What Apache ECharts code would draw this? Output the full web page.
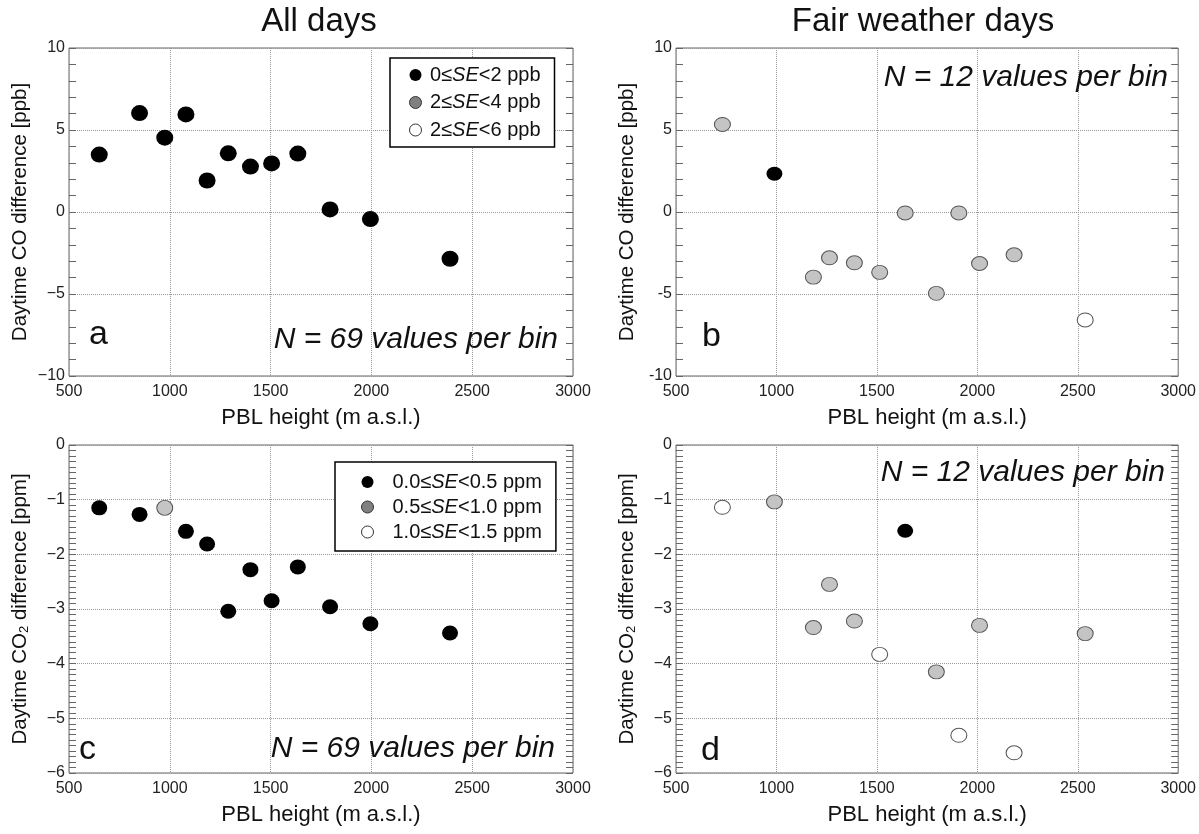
<!DOCTYPE html>
<html><head><meta charset="utf-8">
<script src="https://cdn.jsdelivr.net/npm/echarts@6/dist/echarts.min.js"></script>
<style>html,body{margin:0;padding:0;background:#fff}#c{width:1199px;height:834px}</style>
</head><body><div id="c"></div>
<script>
const panelTitles = ['All days', 'Fair weather days'];
const panelLetters = ['a', 'b', 'c', 'd'];
const nTexts = ['N = 69 values per bin', 'N = 12 values per bin', 'N = 69 values per bin', 'N = 12 values per bin'];
const xName = 'PBL height (m a.s.l.)';
const coName = 'Daytime CO difference [ppb]';
const co2Name = 'Daytime CO{sub|2} difference [ppm]';
const coClasses = ['0≤SE<2 ppb', '2≤SE<4 ppb', '2≤SE<6 ppb'];
const co2Classes = ['0.0≤SE<0.5 ppm', '0.5≤SE<1.0 ppm', '1.0≤SE<1.5 ppm'];

// All days (bins of 69 values)
const pblAll   = [650, 850, 975, 1080, 1185, 1290, 1400, 1505, 1635, 1795, 1995, 2390];
const coAll    = [3.50, 6.03, 4.53, 5.95, 1.92, 3.58, 2.77, 2.96, 3.56, 0.16, -0.43, -2.85];
const coAllSE  = [0, 0, 0, 0, 0, 0, 0, 0, 0, 0, 0, 0];
const co2All   = [-1.15, -1.27, -1.15, -1.58, -1.81, -3.04, -2.28, -2.85, -2.23, -2.96, -3.27, -3.44];
const co2AllSE = [0, 0, 1, 0, 0, 0, 0, 0, 0, 0, 0, 0];

// Fair weather days (bins of 12 values)
const pblFair   = [731, 990, 1184, 1264, 1388, 1514, 1641, 1796, 1908, 2011, 2183, 2537];
const coFair    = [5.34, 2.33, -3.97, -2.79, -3.10, -3.68, -0.06, -4.96, -0.06, -3.14, -2.61, -6.58];
const coFairSE  = [1, 0, 1, 1, 1, 1, 1, 1, 1, 1, 1, 2];
const co2Fair   = [-1.14, -1.04, -3.34, -2.55, -3.22, -3.83, -1.57, -4.15, -5.31, -3.30, -5.63, -3.45];
const co2FairSE = [2, 1, 1, 1, 1, 2, 0, 1, 2, 1, 2, 1];

const FF = '"Liberation Sans", Arial, sans-serif';
const fillCols = ['#000000', '#c4c4c4', '#ffffff'];
const edgeCols = ['#000000', '#555555', '#555555'];
const legendCols = ['#000000', '#808080', '#ffffff'];

const panels = [
  {x: pblAll,  y: coAll,   se: coAllSE,   cls: coClasses,  ymin: -10, ymax: 10, yint: 5, minor: 5,  yname: coName,  minus: '\u2212', size: [17, 16]},
  {x: pblFair, y: coFair,  se: coFairSE,  cls: coClasses,  ymin: -10, ymax: 10, yint: 5, minor: 5,  yname: coName,  minus: '-',      size: [16, 14]},
  {x: pblAll,  y: co2All,  se: co2AllSE,  cls: co2Classes, ymin: -6,  ymax: 0,  yint: 1, minor: 10, yname: co2Name, minus: '\u2212', size: [16, 15]},
  {x: pblFair, y: co2Fair, se: co2FairSE, cls: co2Classes, ymin: -6,  ymax: 0,  yint: 1, minor: 10, yname: co2Name, minus: '\u2212', size: [16, 14]}
];

const grids = [
  {left: 69,  top: 48,  width: 504, height: 328},
  {left: 676, top: 48,  width: 504, height: 328},
  {left: 69,  top: 445, width: 504, height: 328},
  {left: 676, top: 445, width: 504, height: 328}
].map(g => Object.assign(g, {show: true, borderColor: '#666', borderWidth: 1, containLabel: false}));

const xAxes = [], yAxes = [], series = [];
panels.forEach((p, i) => {
  xAxes.push({
    type: 'value', gridIndex: i, min: 500, max: 3000, interval: 500,
    name: xName, nameLocation: 'middle', nameGap: 31,
    nameTextStyle: {fontFamily: FF, fontSize: 22, color: '#111'},
    axisLine: {show: false}, axisTick: {show: false},
    axisLabel: {fontFamily: FF, fontSize: 16, color: '#222', margin: 8, formatter: v => String(v)},
    splitLine: {show: true, lineStyle: {color: '#999', type: 'dotted', width: 1}}
  });
  const tickCommon = {
    type: 'value', gridIndex: i, min: p.ymin, max: p.ymax, interval: p.yint,
    axisLine: {show: false},
    axisTick: {show: true, inside: true, length: 7, lineStyle: {color: '#666'}},
    minorTick: {show: true, splitNumber: p.minor, length: 7, lineStyle: {color: '#666'}}
  };
  yAxes.push(Object.assign({}, tickCommon, {
    position: 'left',
    name: p.yname, nameLocation: 'middle', nameGap: 38, nameRotate: 90,
    nameTextStyle: {fontFamily: FF, fontSize: 20.5, color: '#111',
      rich: {sub: {fontFamily: FF, fontSize: 13, color: '#111', verticalAlign: 'bottom', padding: [8, 0, 0, 0]}}},
    axisLabel: {fontFamily: FF, fontSize: 16, color: '#222', margin: 4,
      formatter: v => (v < 0 ? p.minus + Math.abs(v) : String(v))},
    splitLine: {show: true, lineStyle: {color: '#999', type: 'dotted', width: 1}}
  }));
  yAxes.push(Object.assign({}, tickCommon, {
    position: 'right', axisLabel: {show: false}, splitLine: {show: false}
  }));
  p.cls.forEach((name, k) => {
    const data = [];
    p.x.forEach((xv, j) => { if (p.se[j] === k) data.push([xv, p.y[j]]); });
    series.push({
      type: 'scatter', name: name, xAxisIndex: i, yAxisIndex: 2 * i,
      data: data, symbol: 'circle', symbolSize: p.size,
      itemStyle: {color: fillCols[k], borderColor: edgeCols[k], borderWidth: k === 0 ? 0 : 1, opacity: 1},
      emphasis: {disabled: true}, z: 5
    });
  });
});

function legendFor(names, left, top, padding, gap, iw) {
  return {
    data: names.map((n, k) => ({name: n, icon: 'circle',
      itemStyle: {color: legendCols[k], borderColor: k === 0 ? '#000' : '#333', borderWidth: k === 0 ? 0 : 1}})),
    orient: 'vertical', left: left, top: top, padding: padding, itemGap: gap,
    itemWidth: iw, itemHeight: 12, selectedMode: false,
    borderColor: '#000', borderWidth: 1.5, backgroundColor: '#fff', borderRadius: 0,
    textStyle: {fontFamily: FF, fontSize: 20, color: '#111',
      rich: {i: {fontFamily: FF, fontSize: 20, fontStyle: 'italic', color: '#111'}}},
    formatter: n => n.replace('SE', '{i|SE}')
  };
}

const txt = (x, y, text, font, align) => ({
  type: 'text', x: x, y: y, z: 10,
  style: {text: text, font: font, fill: '#111', align: align, verticalAlign: 'middle'}
});

const graphic = [
  txt(319, 22, panelTitles[0], '33px ' + FF, 'center'),
  txt(923, 22, panelTitles[1], '33px ' + FF, 'center'),
  txt(89, 335, panelLetters[0], '34px ' + FF, 'left'),
  txt(702, 337, panelLetters[1], '34px ' + FF, 'left'),
  txt(79, 750, panelLetters[2], '34px ' + FF, 'left'),
  txt(701, 751, panelLetters[3], '34px ' + FF, 'left'),
  txt(558, 340, nTexts[0], 'italic 30px ' + FF, 'right'),
  txt(1168, 78, nTexts[1], 'italic 30px ' + FF, 'right'),
  txt(555, 749, nTexts[2], 'italic 30px ' + FF, 'right'),
  txt(1165, 473, nTexts[3], 'italic 30px ' + FF, 'right')
];

const chart = echarts.init(document.getElementById('c'), null, {renderer: 'canvas'});
chart.setOption({
  backgroundColor: '#fff',
  animation: false,
  grid: grids,
  xAxis: xAxes,
  yAxis: yAxes,
  series: series,
  legend: [
    legendFor(coClasses, 390, 58, [7, 14, 7, 19], 7.5, 19),
    legendFor(co2Classes, 335, 462, [10, 14, 9, 26], 5, 40)
  ],
  graphic: graphic
});
</script></body></html>
